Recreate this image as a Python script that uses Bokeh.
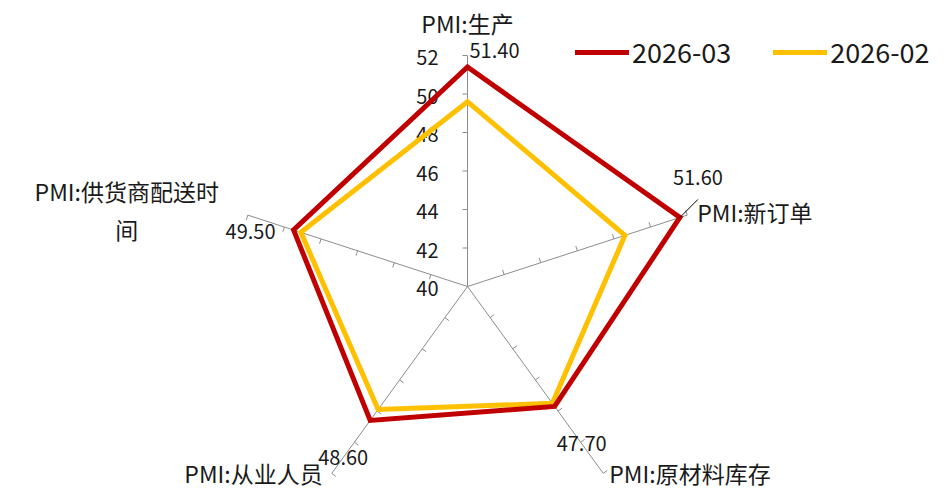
import numpy as np
from bokeh.plotting import figure
from bokeh.models import Range1d, Legend, LegendItem
from bokeh.core.properties import value
from bokeh.embed import file_html
from bokeh.resources import INLINE

# ---------------- data ----------------
categories = ["PMI:生产", "PMI:新订单", "PMI:原材料库存", "PMI:从业人员", "PMI:供货商配送时间"]
series_names = ["2026-03", "2026-02"]
values_mar = [51.4, 51.6, 47.7, 48.6, 49.5]
values_feb = [49.6, 48.6, 47.5, 47.9, 49.1]
tick_values = [40, 42, 44, 46, 48, 50, 52]
tick_labels = ["40", "42", "44", "46", "48", "50", "52"]
r_min, r_max = 40, 52

# ---------------- layout ----------------
FONT = "Noto Sans CJK SC"
W, H = 946, 491
R = 231.0  # pixel radius of r_max
RED, YELLOW, GRAY = "#C00000", "#FFC000", "#8C8C8C"

n = len(categories)
ang = np.deg2rad(90 - 72 * np.arange(n))
ux, uy = np.cos(ang), np.sin(ang)


def rad(v):
    return (np.asarray(v, dtype=float) - r_min) / (r_max - r_min) * R


p = figure(width=W, height=H, output_backend="svg", toolbar_location=None,
           x_range=Range1d(-467, 479), y_range=Range1d(-205, 286),
           x_axis_type=None, y_axis_type=None, min_border=0,
           outline_line_color=None, background_fill_color="white",
           border_fill_color="white")
p.grid.visible = False

# spokes
rend = rad(r_max)
p.segment(x0=np.zeros(n), y0=np.zeros(n), x1=ux * rend, y1=uy * rend,
          line_color=GRAY, line_width=1)

# tick marks on every spoke (perpendicular, counter-clockwise side)
tx0, ty0, tx1, ty1 = [], [], [], []
for i in range(n):
    for tv in tick_values[1:]:
        rr = rad(tv)
        bx, by = ux[i] * rr, uy[i] * rr
        px, py = -uy[i], ux[i]
        tx0.append(bx); ty0.append(by)
        tx1.append(bx + px * 5); ty1.append(by + py * 5)
p.segment(x0=tx0, y0=ty0, x1=tx1, y1=ty1, line_color=GRAY, line_width=1)

# radial tick labels along top spoke
p.text(x=[-29] * len(tick_values), y=list(rad(tick_values)), text=tick_labels,
       text_align="right", text_baseline="middle", y_offset=2,
       text_font=value(FONT), text_font_size="20px", text_color="#1a1a1a")


def series_line(vals, color):
    r = rad(vals)
    xs = list(ux * r)
    ys = list(uy * r)
    # close the path and overlap one segment so that every corner is joined
    xs = xs + [xs[0], xs[1]]
    ys = ys + [ys[0], ys[1]]
    return p.line(xs, ys, line_color=color, line_width=5,
                  line_join="miter", line_cap="round")


r_feb = series_line(values_feb, YELLOW)
r_mar = series_line(values_mar, RED)

# data labels for 2026-03
rm = rad(values_mar)
lab_off = [(27, 17), (18, 40), (27, -37), (-27, -37), (-43, -2)]
lx = [ux[i] * rm[i] + lab_off[i][0] for i in range(n)]
ly = [uy[i] * rm[i] + lab_off[i][1] for i in range(n)]
p.text(x=lx, y=ly, text=[f"{v:.2f}" for v in values_mar],
       text_align="center", text_baseline="middle",
       text_font=value(FONT), text_font_size="20px", text_color="#1a1a1a")
# leader line for the new-orders label
p.segment(x0=[ux[1] * rm[1]], y0=[uy[1] * rm[1]],
          x1=[ux[1] * rm[1] + 18], y1=[uy[1] * rm[1] + 18],
          line_color="black", line_width=1)

# category labels
cat_text = ["PMI:生产", "PMI:新订单", "PMI:原材料库存", "PMI:从业人员", "PMI:供货商配送时\n间"]
cat_off = [(0, 33), (10, 3), (6, 0), (-9, 0), (-121, 5)]
cat_align = ["center", "left", "left", "right", "center"]
for i in range(n):
    p.text(x=[ux[i] * rend + cat_off[i][0]], y=[uy[i] * rend + cat_off[i][1]],
           text=[cat_text[i]], text_align=cat_align[i], text_baseline="middle",
           text_line_height=1.12,
           text_font=value(FONT), text_font_size="23px", text_color="#1a1a1a")

legend = Legend(items=[LegendItem(label=series_names[0], renderers=[r_mar]),
                       LegendItem(label=series_names[1], renderers=[r_feb])],
                orientation="horizontal", location=(575, 420),
                glyph_width=54, glyph_height=30, label_standoff=3, spacing=42,
                padding=0, margin=0, border_line_color=None,
                background_fill_alpha=0,
                label_text_font=FONT, label_text_font_size="27px",
                label_text_color="#1a1a1a")
p.add_layout(legend)

open("out.html", "w").write(file_html(p, INLINE))
